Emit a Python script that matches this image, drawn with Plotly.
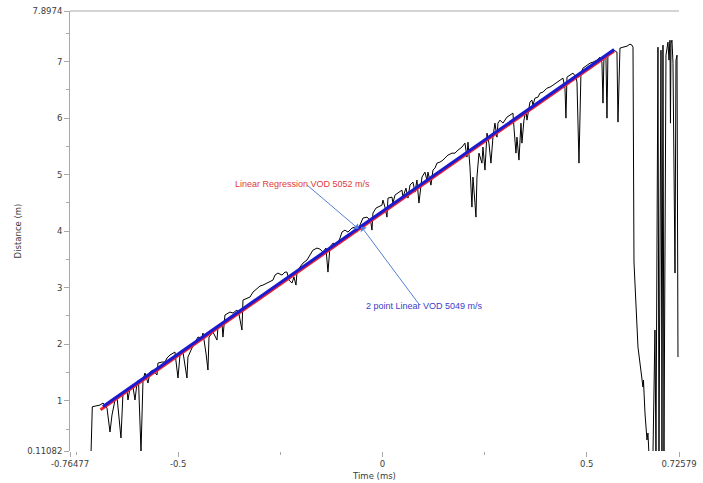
import plotly.graph_objects as go

# ---- data ----
time_ms = [
    -0.7134, -0.7102, -0.6914, -0.6840, -0.6742, -0.6669, -0.6620, -0.6571, -0.6546, -0.6497,
    -0.6448, -0.6400, -0.6351, -0.6253, -0.6229, -0.6180, -0.6106, -0.6057, -0.6008, -0.5972,
    -0.5910, -0.5861, -0.5813, -0.5739, -0.5690, -0.5617, -0.5519, -0.5495, -0.5397, -0.5323,
    -0.5274, -0.5201, -0.5079, -0.5005, -0.4956, -0.4883, -0.4785, -0.4761, -0.4663, -0.4589,
    -0.4516, -0.4418, -0.4393, -0.4320, -0.4271, -0.4246, -0.4148, -0.4050, -0.4026, -0.3928,
    -0.3904, -0.3855, -0.3732, -0.3659, -0.3561, -0.3512, -0.3463, -0.3439, -0.3414, -0.3316,
    -0.3243, -0.3169, -0.3071, -0.2998, -0.2925, -0.2827, -0.2753, -0.2680, -0.2631, -0.2558,
    -0.2460, -0.2386, -0.2337, -0.2288, -0.2215, -0.2166, -0.2117, -0.2093, -0.2019, -0.1946,
    -0.1848, -0.1774, -0.1701, -0.1603, -0.1530, -0.1456, -0.1383, -0.1334, -0.1285, -0.1211,
    -0.1113, -0.1040, -0.0991, -0.0918, -0.0844, -0.0746, -0.0673, -0.0624, -0.0551, -0.0477,
    -0.0379, -0.0330, -0.0282, -0.0257, -0.0233, -0.0159, -0.0110, -0.0012, 0.0012, 0.0061,
    0.0110, 0.0135, 0.0233, 0.0257, 0.0306, 0.0379, 0.0477, 0.0502, 0.0575, 0.0624,
    0.0673, 0.0746, 0.0795, 0.0844, 0.0893, 0.0967, 0.1040, 0.1089, 0.1114, 0.1187,
    0.1236, 0.1285, 0.1334, 0.1407, 0.1481, 0.1554, 0.1603, 0.1701, 0.1774, 0.1848,
    0.1946, 0.2019, 0.2068, 0.2093, 0.2142, 0.2190, 0.2215, 0.2264, 0.2288, 0.2313,
    0.2362, 0.2435, 0.2460, 0.2509, 0.2558, 0.2606, 0.2655, 0.2704, 0.2753, 0.2802,
    0.2827, 0.2876, 0.2949, 0.3047, 0.3120, 0.3194, 0.3218, 0.3267, 0.3292, 0.3341,
    0.3390, 0.3414, 0.3463, 0.3512, 0.3537, 0.3610, 0.3659, 0.3683, 0.3732, 0.3806,
    0.3855, 0.3928, 0.4026, 0.4099, 0.4173, 0.4271, 0.4344, 0.4418, 0.4467, 0.4491,
    0.4516, 0.4589, 0.4663, 0.4736, 0.4761, 0.4810, 0.4858, 0.4907, 0.5005, 0.5079,
    0.5152, 0.5250, 0.5323, 0.5372, 0.5397, 0.5421, 0.5470, 0.5495, 0.5519, 0.5617,
    0.5666, 0.5740, 0.5764, 0.5813, 0.5887, 0.5985, 0.6058, 0.6107, 0.6132, 0.6156,
    0.6254, 0.6303, 0.6351, 0.6376, 0.6388, 0.6425, 0.6474, 0.6498, 0.6523, 0.6621,
    0.6669, 0.6694, 0.6743, 0.6768, 0.6817, 0.6841, 0.6866, 0.6890, 0.6939, 0.6964,
    0.6988, 0.7013, 0.7037, 0.7049, 0.7062, 0.7086, 0.7111, 0.7160, 0.7184, 0.7209,
    0.7233,
]
distance_m = [
    0.05, 0.894, 0.924, 0.960, 0.871, 0.447, 0.748, 0.924, 1.013, 1.066,
    0.712, 0.341, 1.137, 1.190, 1.013, 1.225, 1.243, 1.013, 1.314, 1.367,
    0.10, 1.367, 1.491, 1.314, 1.508, 1.544, 1.455, 1.667, 1.685, 1.685,
    1.756, 1.809, 1.862, 1.402, 1.809, 1.862, 1.402, 1.774, 1.933, 2.039,
    2.127, 2.110, 2.198, 1.844, 1.544, 2.127, 2.216, 2.074, 2.304, 2.375,
    2.127, 2.517, 2.570, 2.552, 2.605, 2.534, 2.287, 2.251, 2.782, 2.817,
    2.835, 2.923, 2.994, 3.030, 3.047, 3.083, 3.100, 3.136, 3.224, 3.260,
    3.224, 3.277, 3.277, 3.136, 3.083, 3.189, 3.047, 3.260, 3.366, 3.436,
    3.490, 3.578, 3.666, 3.702, 3.684, 3.631, 3.702, 3.277, 3.720, 3.790,
    3.755, 3.879, 3.985, 4.020, 3.985, 4.056, 4.073, 3.985, 4.109, 4.233,
    4.250, 4.215, 4.144, 4.020, 4.321, 4.409, 4.427, 4.462, 4.551, 4.427,
    4.250, 4.586, 4.604, 4.498, 4.639, 4.675, 4.728, 4.604, 4.763, 4.586,
    4.816, 4.869, 4.692, 4.905, 4.498, 4.958, 5.046, 4.905, 5.046, 4.816,
    5.082, 5.117, 5.205, 5.223, 5.259, 5.312, 5.347, 5.382, 5.382, 5.435,
    5.489, 5.559, 5.312, 5.577, 5.135, 4.427, 4.958, 4.498, 4.250, 4.958,
    5.382, 5.205, 5.489, 5.082, 5.736, 5.559, 5.205, 5.665, 5.913, 5.665,
    5.913, 5.966, 5.913, 6.019, 6.055, 6.090, 5.842, 5.382, 5.665, 5.259,
    5.913, 5.559, 5.966, 6.143, 5.966, 6.285, 6.320, 6.231, 6.355, 6.373,
    6.444, 6.461, 6.532, 6.550, 6.585, 6.638, 6.674, 6.709, 6.532, 6.001,
    6.727, 6.762, 6.798, 6.727, 6.638, 5.205, 6.798, 6.886, 6.939, 6.974,
    6.992, 7.028, 7.081, 6.992, 6.267, 7.081, 7.081, 6.001, 7.151, 7.169,
    7.204, 7.169, 5.931, 7.240, 7.257, 7.275, 7.311, 7.293, 7.257, 3.454,
    1.950, 1.667, 1.367, 1.243, 1.367, 0.783, 0.305, 0.429, 0.05, 0.05,
    2.251, 0.05, 7.257, 0.05, 7.204, 0.05, 7.293, 0.05, 7.116, 7.293,
    7.346, 7.028, 7.381, 5.913, 7.328, 7.381, 6.974, 3.260, 7.028, 7.116,
    1.774,
]

# regression fit (red) and two-point fit (blue) end points
reg_time = [-0.690, 0.567]
reg_dist = [0.84, 7.19]
two_pt_time = [-0.684, 0.567]
two_pt_dist = [0.90, 7.215]

x_tickvals = [-0.76477, -0.5, 0, 0.5, 0.72579]
x_ticktext = ["-0.76477", "-0.5", "0", "0.5", "0.72579"]
y_tickvals = [0.11082, 1, 2, 3, 4, 5, 6, 7, 7.8974]
y_ticktext = ["0.11082", "1", "2", "3", "4", "5", "6", "7", "7.8974"]

reg_label = "Linear Regression VOD 5052 m/s"
two_pt_label = "2 point Linear VOD 5049 m/s"

AX_FONT = dict(family="DejaVu Sans", size=8.5, color="#3c3c3c")
AX_COLOR = "#a8a8a8"

fig = go.Figure()
fig.add_trace(go.Scatter(x=time_ms, y=distance_m, mode="lines",
                         line=dict(color="black", width=1), showlegend=False))
fig.add_trace(go.Scatter(x=reg_time, y=reg_dist, mode="lines",
                         line=dict(color="#ee2233", width=3), showlegend=False))
fig.add_trace(go.Scatter(x=two_pt_time, y=two_pt_dist, mode="lines",
                         line=dict(color="#1a1ad0", width=3), showlegend=False))

arrow_color = "#5580d8"
# arrows
fig.add_annotation(x=-0.0588, y=4.043, ax=-0.1887, ay=4.843, xref="x", yref="y",
                   axref="x", ayref="y", text="", showarrow=True, arrowhead=1,
                   arrowsize=1.3, arrowwidth=1, arrowcolor=arrow_color)
fig.add_annotation(x=-0.0515, y=4.078, ax=0.0931, ay=2.673, xref="x", yref="y",
                   axref="x", ayref="y", text="", showarrow=True, arrowhead=1,
                   arrowsize=1.3, arrowwidth=1, arrowcolor=arrow_color)
# labels
fig.add_annotation(x=-0.196, y=4.84, xref="x", yref="y", text=reg_label,
                   showarrow=False,
                   font=dict(family="Liberation Sans", size=9, color="#e03a3a"))
fig.add_annotation(x=0.103, y=2.67, xref="x", yref="y", text=two_pt_label,
                   showarrow=False,
                   font=dict(family="Liberation Sans", size=9, color="#3d3dc8"))

# top border line
fig.add_shape(type="line", xref="paper", yref="paper", x0=0, x1=1, y0=1, y1=1,
              line=dict(color=AX_COLOR, width=1))

fig.update_layout(
    width=703, height=483,
    margin=dict(l=70, r=24, t=11, b=32, autoexpand=False),
    paper_bgcolor="white", plot_bgcolor="white",
    font=AX_FONT,
    xaxis=dict(
        range=[-0.76478, 0.7258], tickmode="array",
        tickvals=x_tickvals, ticktext=x_ticktext,
        showgrid=False, zeroline=False, showline=False, automargin=False,
        ticks="outside", ticklen=5, tickcolor=AX_COLOR, tickwidth=1,
        minor=dict(dtick=0.25, tick0=0, ticks="outside", ticklen=3,
                   tickcolor=AX_COLOR, showgrid=False),
        tickfont=AX_FONT,
        title=dict(text="Time (ms)", font=AX_FONT, standoff=4),
    ),
    yaxis=dict(
        range=[0.11081, 7.89741], tickmode="array",
        tickvals=y_tickvals, ticktext=y_ticktext,
        showgrid=False, zeroline=False, showline=True, linecolor=AX_COLOR,
        linewidth=1, automargin=False,
        ticks="outside", ticklen=5, tickcolor=AX_COLOR, tickwidth=1,
        minor=dict(dtick=0.5, tick0=0, ticks="outside", ticklen=3,
                   tickcolor=AX_COLOR, showgrid=False),
        tickfont=AX_FONT,
        title=dict(text="Distance (m)", font=AX_FONT, standoff=4),
    ),
)

fig.write_html(
    "out.html",
    config={"displayModeBar": False, "staticPlot": True},
    post_script="document.body.style.margin='0';document.body.style.overflow='hidden';",
)
